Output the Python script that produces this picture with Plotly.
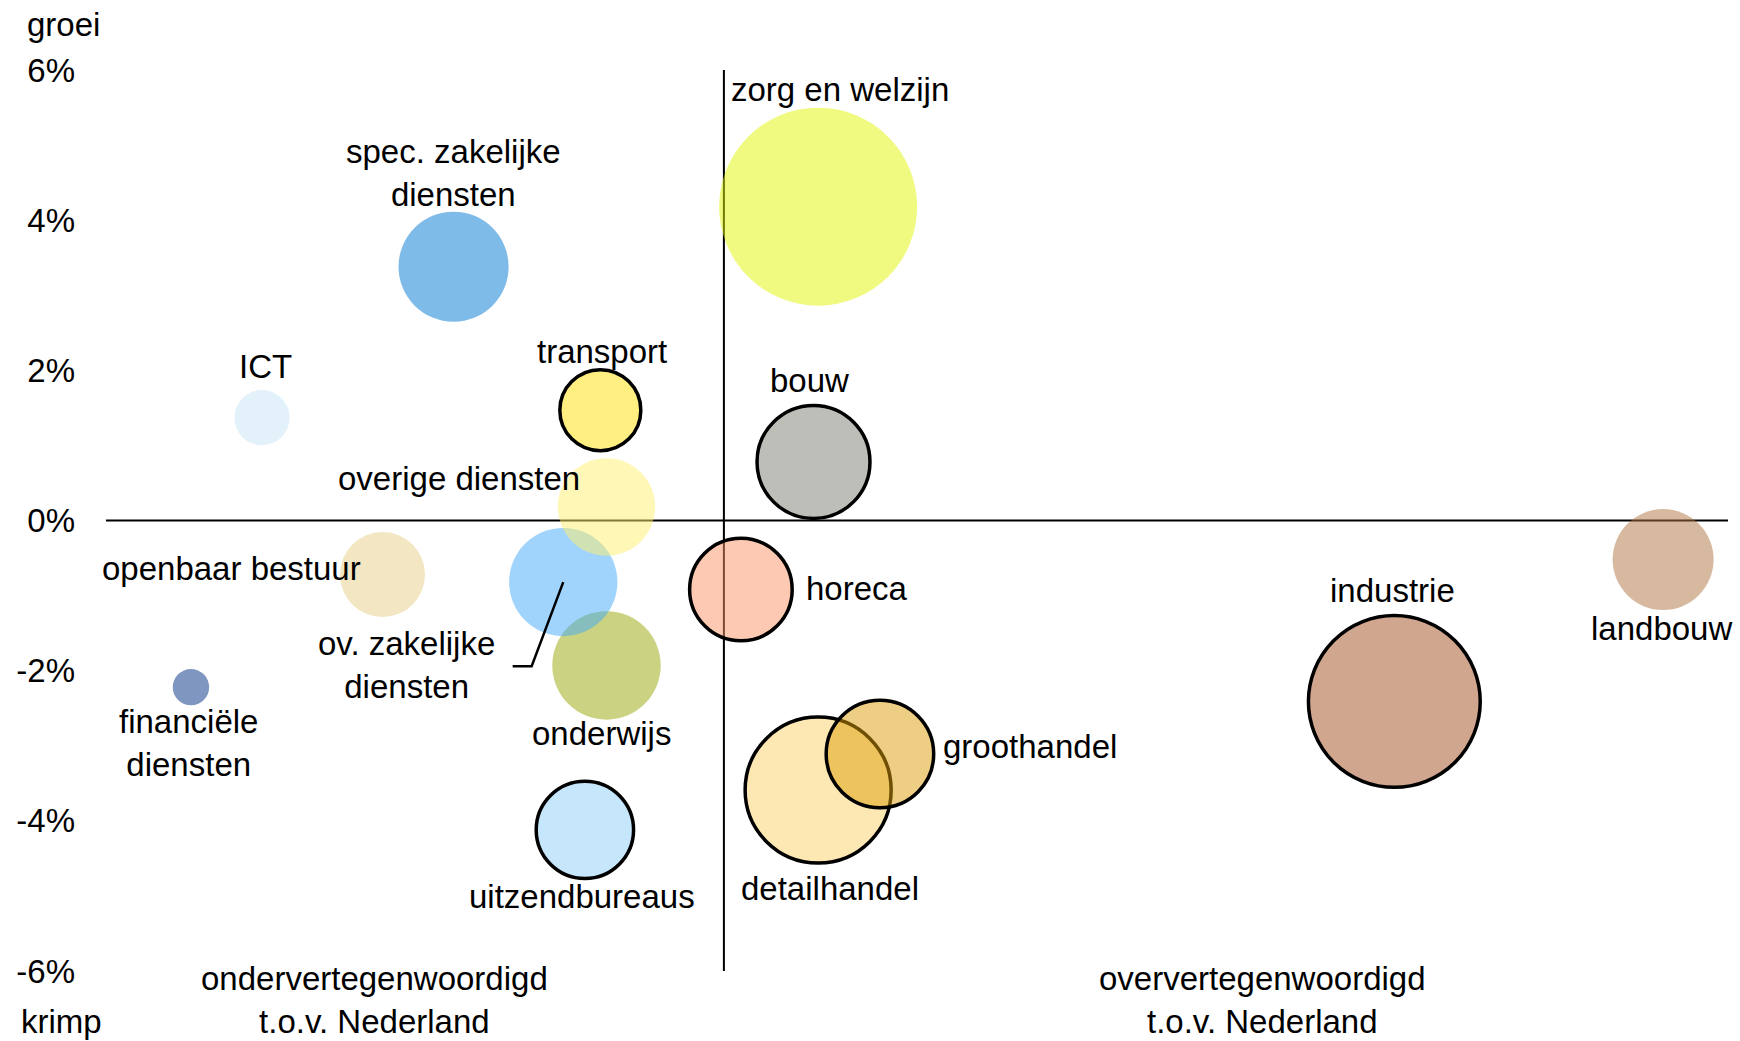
import plotly.graph_objects as go

# ---------------- data ----------------
sectors = ["zorg en welzijn", "spec. zakelijke diensten", "ICT", "financiële diensten",
           "openbaar bestuur", "onderwijs", "ov. zakelijke diensten", "overige diensten",
           "transport", "bouw", "horeca", "detailhandel", "groothandel", "uitzendbureaus",
           "industrie", "landbouw"]
label_text = ["zorg en welzijn", "spec. zakelijke<br>diensten", "ICT", "financiële<br>diensten",
              "openbaar bestuur", "onderwijs", "ov. zakelijke<br>diensten", "overige diensten",
              "transport", "bouw", "horeca", "detailhandel", "groothandel", "uitzendbureaus",
              "industrie", "landbouw"]
# representation index (NL = 100)
representation = [106.1, 82.5, 70.1, 65.5, 77.9, 92.4, 89.6, 92.4,
                  92.0, 105.8, 101.1, 106.1, 110.1, 91.0, 143.4, 160.8]
# growth (%)
growth = [4.18, 3.38, 1.37, -2.22, -0.72, -1.93, -0.82, 0.18,
          1.47, 0.78, -0.92, -3.59, -3.11, -4.12, -2.41, -0.52]
# size of sector (jobs, x1000)
jobs = [98.0, 30.3, 7.6, 3.3, 18.1, 29.4, 29.3, 23.7,
        16.4, 31.9, 26.3, 53.3, 28.9, 23.7, 73.8, 25.5]
outlined = [False, False, False, False, False, False, False, False,
            True, True, True, True, True, True, True, False]

y_tickvals = [-6, -4, -2, 0, 2, 4, 6]
y_ticktext = ["-6%", "-4%", "-2%", "0%", "2%", "4%", "6%"]

# ---------------- styling ----------------
colors = ["rgba(225,245,1,0.5)", "rgba(0,119,209,0.5)", "rgba(199,227,245,0.5)",
          "rgba(0,45,131,0.5)", "rgba(231,205,135,0.5)", "rgba(151,167,7,0.5)",
          "rgba(65,169,249,0.5)", "rgba(255,239,107,0.5)", "rgba(255,221,1,0.5)",
          "rgba(125,125,115,0.5)", "rgba(251,147,103,0.5)", "rgba(251,209,105,0.5)",
          "rgba(219,157,5,0.5)", "rgba(141,205,247,0.5)", "rgba(163,77,31,0.5)",
          "rgba(175,115,65,0.5)"]
# label offsets in px (dx right, dy down) and anchor
label_offsets = [(22, -117, "center"), (0, -94, "center"), (3, -51, "center"),
                 (-2, 56, "center"), (-151, -6, "center"), (-5, 68, "center"),
                 (-157, 83, "center"), (-148, -28, "center"), (2, -59, "center"),
                 (-4, -81, "center"), (63, -1, "left"), (12, 98, "center"),
                 (61, -8, "left"), (-3, 67, "center"), (-2, -111, "center"),
                 (-1.5, 69, "center")]

FONT = "Liberation Sans, Arial, sans-serif"
FS = 33
W, H = 1740, 1041
ML, MR, MT, MB = 106, 12, 70, 70
XR = [60, 165]
YR = [-6, 6]
px_per_x = (W - ML - MR) / (XR[1] - XR[0])
px_per_y = (H - MT - MB) / (YR[1] - YR[0])

fig = go.Figure()

fig.add_trace(go.Scatter(
    x=representation, y=growth, mode="markers",
    marker=dict(size=jobs, sizemode="area", sizeref=0.005, color=colors, opacity=1,
                line=dict(color="black", width=[3.5 if o else 0 for o in outlined])),
    hoverinfo="text", text=sectors, showlegend=False,
))

# leader line for ov. zakelijke diensten
i = sectors.index("ov. zakelijke diensten")
cx, cy = representation[i], growth[i]
fig.add_trace(go.Scatter(
    x=[cx, cx - 31.6 / px_per_x, cx - 50.6 / px_per_x],
    y=[cy, cy - 84.2 / px_per_y, cy - 84.2 / px_per_y],
    mode="lines", line=dict(color="black", width=2.5),
    hoverinfo="skip", showlegend=False,
))

annotations = []
for name, txt, xv, yv, (dx, dy, anc) in zip(sectors, label_text, representation, growth, label_offsets):
    annotations.append(dict(x=xv, y=yv, xref="x", yref="y", text=txt, showarrow=False,
                            xanchor=anc, yanchor="middle", xshift=dx, yshift=-dy,
                            font=dict(family=FONT, size=FS, color="black")))

def paper_x(px):
    return (px - ML) / (W - ML - MR)

def paper_y(py):
    return (H - MB - py) / (H - MT - MB)

corner = [("groei", 25, 24, "left"), ("krimp", 19, 1021, "left"),
          ("ondervertegenwoordigd<br>t.o.v. Nederland", 374, 1000, "center"),
          ("oververtegenwoordigd<br>t.o.v. Nederland", 1262, 1000, "center")]
for txt, px, py, anc in corner:
    annotations.append(dict(x=paper_x(px), y=paper_y(py), xref="paper", yref="paper",
                            text=txt, showarrow=False, xanchor=anc, yanchor="middle",
                            font=dict(family=FONT, size=FS, color="black")))

shapes = [
    dict(type="line", xref="x", yref="paper", x0=100, x1=100, y0=0, y1=1,
         line=dict(color="black", width=2), layer="below"),
    dict(type="line", xref="paper", yref="y", x0=0, x1=1, y0=0, y1=0,
         line=dict(color="black", width=2), layer="below"),
]

fig.update_layout(
    width=W, height=H,
    margin=dict(l=ML, r=MR, t=MT, b=MB),
    paper_bgcolor="white", plot_bgcolor="white",
    font=dict(family=FONT, size=FS, color="black"),
    xaxis=dict(range=XR, showgrid=False, zeroline=False, showticklabels=False,
               showline=False, ticks=""),
    yaxis=dict(range=YR, showgrid=False, zeroline=False, showline=False, ticks="",
               tickvals=y_tickvals, ticktext=y_ticktext, ticklabelstandoff=30,
               tickfont=dict(family=FONT, size=FS, color="black")),
    annotations=annotations, shapes=shapes,
    showlegend=False,
)

fig.write_html("out.html", config={"displayModeBar": False},
               post_script="document.body.style.margin='0';")
